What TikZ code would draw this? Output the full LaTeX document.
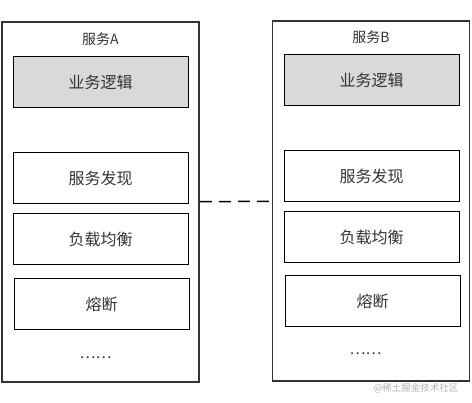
\documentclass[tikz,border=0pt]{standalone}
\usepackage{fontspec}
\newfontfamily\cjk{Noto Sans CJK SC}
\usetikzlibrary{positioning}
\tikzset{%
  svc/.style={draw=black!80, line width=1.6pt, minimum width=197pt, minimum height=360pt},
  mod/.style={draw, line width=1pt, minimum width=175pt, minimum height=51pt,
    text=black!80, font=\cjk\fontsize{16}{16}\selectfont},
  biz/.style={mod, fill=black!15},
  ttl/.style={text=black!80, font=\cjk\fontsize{14}{14}\selectfont},
  dots/.style={text=black!80, font=\cjk\fontsize{15}{15}\selectfont},
  link/.style={line width=1.5pt, dash pattern=on 12pt off 7pt}
}
\begin{document}
\begin{tikzpicture}[x=1pt, y=-1pt]
        \useasboundingbox (0,0) rectangle (472,403);
        \node[svc] (A) at (100.5,202) {};
        \node[svc] (B) at (371,201)   {};
        \node[ttl] (tA) [below = 18pt of A.north, anchor=center] {服务A};
        \node[ttl] (tB) [below = 17pt of B.north, anchor=center] {服务B};
        \node[biz] (bA) [below = 35pt of A.north] {业务逻辑};
        \node[mod] (sA) [below = 44pt of bA]      {服务发现};
        \node[mod] (lA) [below = 9pt of sA]       {负载均衡};
        \node[mod] (fA) [below = 13pt of lA, xshift=1pt] {熔断};
        \node[dots] (dA) [below = 27pt of fA, anchor=center, xshift=-6pt] {……};
        \node[biz] (bB) [below = 34pt of B.north, xshift=0.5pt] {业务逻辑};
        \node[mod] (sB) [below = 44pt of bB]      {服务发现};
        \node[mod] (lB) [below = 9pt of sB]       {负载均衡};
        \node[mod] (fB) [below = 12pt of lB, xshift=1pt] {熔断};
        \node[dots] (dB) [below = 26pt of fB, anchor=center, xshift=-7pt] {……};
        \node[text=black!30, font=\cjk\fontsize{9.5}{9.5}\selectfont]
          (wm) [below = 6pt of B.south, anchor=center, xshift=45pt] {@稀土掘金技术社区};
        \path[link]
        (A) edge (B);
      \end{tikzpicture}
\end{document}
